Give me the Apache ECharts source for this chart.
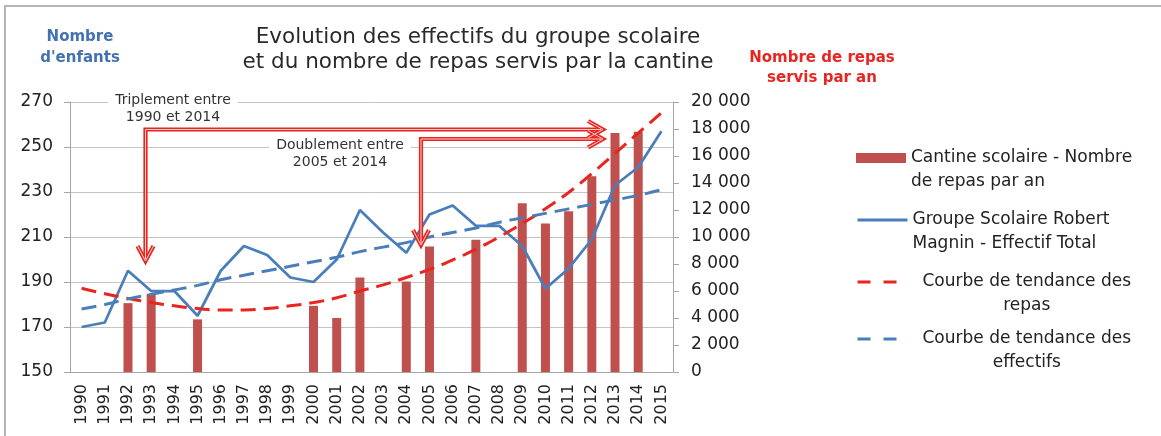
<!DOCTYPE html>
<html>
<head>
<meta charset="utf-8">
<script src="https://cdn.jsdelivr.net/npm/echarts@6/dist/echarts.min.js"></script>
<style>
  html, body { margin: 0; padding: 0; background: #fff; }
  #main { width: 1161px; height: 436px; }
</style>
</head>
<body>
<div id="main"></div>
<script>
// donnees
var annees = ['1990', '1991', '1992', '1993', '1994', '1995', '1996', '1997', '1998', '1999', '2000', '2001', '2002',
  '2003', '2004', '2005', '2006', '2007', '2008', '2009', '2010', '2011', '2012', '2013', '2014', '2015'];
var repas = [null, null, 5100, 5800, null, 3900, null, null, null, null, 4900, 4000, 7000,
  null, 6700, 9300, null, 9800, null, 12500, 11000, 11900, 14500, 17700, 17800, null];
var effectifs = [170, 172, 195, 186, 186, 175, 195, 206, 202, 192, 190, 200, 222,
  212, 203, 220, 224, 215, 215, 206, 187, 196, 209, 233, 241, 257];
var tendanceRepas = [6200, 5800, 5450, 5150, 4900, 4700, 4600, 4600, 4700, 4900, 5150, 5500, 6000,
  6450, 7000, 7600, 8300, 9100, 10000, 11000, 12100, 13300, 14700, 16200, 17700, 19200];
var tendanceEffectifs = [178, 180, 182.5, 184.5, 186.5, 188.5, 191, 193, 195, 197, 199, 201, 203.5,
  205.5, 207.5, 210, 212, 214, 216.5, 218.5, 220.5, 222.5, 224.5, 226.5, 228.5, 231];
var axeEnfants = [150, 270, 20];   // min, max, pas
var axeRepas = [0, 20000, 2000];

var police = 'DejaVu Sans';
var rouge = '#E8251F';
var bleu = '#4A7EBB';
var gris = '#A6A6A6';

var nomBarres = 'Cantine scolaire - Nombre de repas par an';
var nomEffectif = 'Groupe Scolaire Robert Magnin - Effectif Total';
var nomTendRepas = 'Courbe de tendance des repas';
var nomTendEff = 'Courbe de tendance des effectifs';

function espaceMilliers(v) {
  return String(v).replace(/\B(?=(\d{3})+(?!\d))/g, ' ');
}

// fleche a double trait
function fleche(points) {
  return [
    { type: 'polyline', z: 100, shape: { points: points }, style: { stroke: rouge, lineWidth: 4.2, fill: null } },
    { type: 'polyline', z: 101, shape: { points: points }, style: { stroke: '#fbe3e2', lineWidth: 0.9, fill: null } }
  ];
}

function legende(nom, top, texte, extra, decalage) {
  var l = {
    data: [nom],
    left: 856,
    top: top,
    orient: 'vertical',
    padding: 0,
    itemWidth: 50,
    itemHeight: 10,
    selectedMode: false,
    formatter: function () { return texte; },
    itemStyle: { opacity: 0 },
    textStyle: {
      fontFamily: police, fontSize: 17, color: '#222', lineHeight: 24,
      padding: [24, 0, 0, decalage || 0],
      rich: {
        c: { align: 'center', fontFamily: police, fontSize: 17, color: '#222', lineHeight: 24 }
      }
    }
  };
  for (var k in extra) l[k] = extra[k];
  return l;
}

var myChart = echarts.init(document.getElementById('main'));
var option = {
  animation: false,
  backgroundColor: '#fff',
  title: [
    {
      text: 'Evolution des effectifs du groupe scolaire\net du nombre de repas servis par la cantine',
      left: 478, top: 25, textAlign: 'center', padding: 0,
      textStyle: { fontFamily: police, fontSize: 21.5, fontWeight: 'normal', color: '#2a2a2a', lineHeight: 25 }
    },
    {
      text: "Nombre\nd'enfants",
      left: 80, top: 27, textAlign: 'center', padding: 0,
      textStyle: { fontFamily: police, fontSize: 15, fontWeight: 'bold', color: '#4372B4', lineHeight: 21 }
    },
    {
      text: 'Nombre de repas\nservis par an',
      left: 822, top: 48, textAlign: 'center', padding: 0,
      textStyle: { fontFamily: police, fontSize: 15, fontWeight: 'bold', color: rouge, lineHeight: 20 }
    }
  ],
  legend: [
    legende(nomBarres, 122, 'Cantine scolaire - Nombre\nde repas par an', {
      data: [{ name: nomBarres, icon: 'rect' }],
      itemStyle: {}
    }),
    legende(nomEffectif, 184, 'Groupe Scolaire Robert\nMagnin - Effectif Total', {
      lineStyle: { width: 3 }
    }),
    legende(nomTendRepas, 246, '{c|Courbe de tendance des}\n{c|repas}', {
      lineStyle: { width: 3, type: [13, 13] }
    }, 10),
    legende(nomTendEff, 303, '{c|Courbe de tendance des}\n{c|effectifs}', {
      lineStyle: { width: 3, type: [13, 13] }
    }, 10)
  ],
  grid: { left: 70, right: 488, top: 102, bottom: 64 },
  xAxis: {
    type: 'category',
    data: annees,
    boundaryGap: true,
    axisLine: { lineStyle: { color: gris } },
    axisTick: { length: 5, lineStyle: { color: gris } },
    axisLabel: { rotate: 90, fontFamily: police, fontSize: 16, color: '#222', margin: 12 }
  },
  yAxis: [
    {
      type: 'value',
      min: axeEnfants[0], max: axeEnfants[1], interval: axeEnfants[2],
      position: 'left',
      axisLine: { show: true, lineStyle: { color: gris } },
      axisTick: { show: true, length: 6, lineStyle: { color: gris } },
      splitLine: { lineStyle: { color: '#C4C4C4' } },
      axisLabel: { fontFamily: police, fontSize: 17, color: '#222', margin: 17 }
    },
    {
      type: 'value',
      min: axeRepas[0], max: axeRepas[1], interval: axeRepas[2],
      position: 'right',
      axisLine: { show: true, lineStyle: { color: gris } },
      axisTick: { show: true, length: 6, lineStyle: { color: gris } },
      splitLine: { show: false },
      axisLabel: { fontFamily: police, fontSize: 17, color: '#222', margin: 18, formatter: espaceMilliers }
    }
  ],
  series: [
    {
      name: nomBarres, type: 'bar', yAxisIndex: 1, data: repas, barWidth: 9,
      itemStyle: { color: '#C0504D' }
    },
    {
      name: nomEffectif, type: 'line', yAxisIndex: 0, data: effectifs, symbol: 'none',
      itemStyle: { color: bleu }, lineStyle: { color: bleu, width: 2.75 }
    },
    {
      name: nomTendRepas, type: 'line', yAxisIndex: 1, data: tendanceRepas, symbol: 'none', smooth: true,
      itemStyle: { color: rouge }, lineStyle: { color: rouge, width: 3, type: [15, 8] }
    },
    {
      name: nomTendEff, type: 'line', yAxisIndex: 0, data: tendanceEffectifs, symbol: 'none', smooth: true,
      itemStyle: { color: bleu }, lineStyle: { color: bleu, width: 3, type: [15, 8] }
    }
  ],
  graphic: [
    { type: 'rect', z: -10, shape: { x: 5, y: 6, width: 1400, height: 700 }, style: { fill: null, stroke: '#B5B5B5', lineWidth: 2 } },
    {
      type: 'text', z: 90,
      style: {
        text: 'Triplement entre\n1990 et 2014', x: 173, y: 92, align: 'center', verticalAlign: 'top',
        fontFamily: police, fontSize: 14, lineHeight: 17, fill: '#333', backgroundColor: '#fff', padding: [0, 7]
      }
    },
    {
      type: 'text', z: 90,
      style: {
        text: 'Doublement entre\n2005 et 2014', x: 340, y: 137, align: 'center', verticalAlign: 'top',
        fontFamily: police, fontSize: 14, lineHeight: 17, fill: '#333', backgroundColor: '#fff', padding: [0, 7]
      }
    }
  ].concat(
    fleche([[145.5, 259], [145.5, 129.5], [601, 129.5]]),
    fleche([[137.5, 246], [145.5, 261], [153.5, 246]]),
    fleche([[588, 121], [603, 129.5], [588, 138]]),
    fleche([[421, 243], [421, 139], [601, 139]]),
    fleche([[413, 230], [421, 245], [429, 230]]),
    fleche([[588, 130.5], [603, 139], [588, 147.5]])
  )
};
myChart.setOption(option);
</script>
</body>
</html>
